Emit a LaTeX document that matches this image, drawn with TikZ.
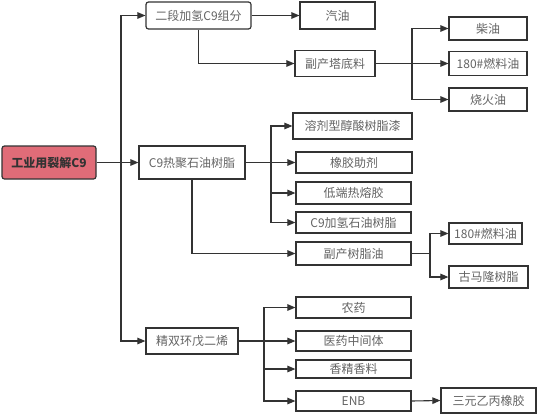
\documentclass[tikz,border=0pt]{standalone}
\usepackage{fontspec}
\setmainfont{Noto Sans CJK SC}
\usetikzlibrary{arrows.meta}
\definecolor{edge}{RGB}{51,51,51}
\definecolor{txt}{RGB}{100,100,100}
\definecolor{rootfill}{RGB}{224,108,120}
\tikzset{
  bx/.style={draw=edge, line width=1.2pt, fill=white, inner sep=0pt, text=txt,
    font=\fontsize{12}{14}\selectfont, minimum width=#1},
  bx/.default=115pt,
  rbx/.style={bx=#1, rounded corners=2.5pt},
  conn/.style={draw=edge, line width=1.1pt},
  arr/.style={conn, -{Triangle[length=8pt,width=6.5pt]}}
}
\begin{document}
\begin{tikzpicture}[x=1pt,y=-1pt]
\useasboundingbox[fill=white] (0,0) rectangle (537,415);
% nodes
\node[rbx=94pt, minimum height=33pt, fill=rootfill, text=edge, font=\fontsize{12}{14}\selectfont\bfseries] (root) at (49,162.5) {工业用裂解C9};
\node[rbx=105pt, minimum height=27pt] (A) at (198.5,15.5) {二段加氢C9组分};
\node[bx=106pt, minimum height=33pt] (B) at (192,162.5) {C9热聚石油树脂};
\node[bx=92pt, minimum height=26pt] (C) at (192,341) {精双环戊二烯};
\node[bx=75pt, minimum height=27pt] (qy) at (337.5,15.5) {汽油};
\node[bx=80pt, minimum height=26pt] (fd) at (335,63.5) {副产塔底料};
\node[bx=78pt, minimum height=23pt] (cy) at (488,28.5) {柴油};
\node[bx=78pt, minimum height=24pt] (ry1) at (488,63.5) {180\#燃料油};
\node[bx=78pt, minimum height=23pt] (sh) at (488,99.5) {烧火油};
\node[bx=119pt, minimum height=26pt] (rj) at (352.5,126) {溶剂型醇酸树脂漆};
\node[bx=116pt, minimum height=21pt] (xj) at (354,162.5) {橡胶助剂};
\node[bx, minimum height=22pt] (dd) at (353.5,193) {低端热熔胶};
\node[bx, minimum height=21pt] (jq) at (353.5,222.5) {C9加氢石油树脂};
\node[bx, minimum height=23pt] (fs) at (353.5,253.5) {副产树脂油};
\node[bx=73pt, minimum height=21pt] (ry2) at (485.5,233.5) {180\#燃料油};
\node[bx=79pt, minimum height=22pt] (gm) at (488.5,277) {古马隆树脂};
\node[bx, minimum height=21pt] (ny) at (353.5,307.5) {农药};
\node[bx, minimum height=20pt] (yy) at (353.5,341) {医药中间体};
\node[bx, minimum height=18pt] (xx) at (353.5,369) {香精香料};
\node[bx, minimum height=20pt] (enb) at (353.5,401) {ENB};
\node[bx=95pt, minimum height=25pt] (sy) at (488.5,400.5) {三元乙丙橡胶};
% junctions
\coordinate (t) at (121,162.5);
\coordinate (b1) at (412,63.5);
\coordinate (b2) at (271,162.5);
\coordinate (b3) at (430,253.5);
\coordinate (b4) at (264,341);
% connectors
\draw[arr] (root.east) -- (B.west);
\draw[arr] (t) |- (A.west);
\draw[arr] (t) |- (C.west);
\draw[arr] (A.east) -- (qy.west);
\draw[arr] (A.south) |- (fd.west);
\draw[conn] (fd.east) -- (b1);
\draw[arr] (b1) |- (cy.west);
\draw[arr] (b1) -- (ry1.west);
\draw[arr] (b1) |- (sh.west);
\draw[conn] (B.east) -- (b2);
\draw[arr] (b2) |- (rj.west);
\draw[arr] (b2) -- (xj.west);
\draw[arr] (b2) |- (dd.west);
\draw[arr] (b2) |- (jq.west);
\draw[arr] (B.south) |- (fs.west);
\draw[conn] (fs.east) -- (b3);
\draw[arr] (b3) |- (ry2.west);
\draw[arr] (b3) |- (gm.west);
\draw[conn] (C.east) -- (b4);
\draw[arr] (b4) |- (ny.west);
\draw[arr] (b4) -- (yy.west);
\draw[arr] (b4) |- (xx.west);
\draw[arr] (b4) |- (enb.west);
\draw[arr] (enb.east) -- (sy.west);
\end{tikzpicture}
\end{document}
